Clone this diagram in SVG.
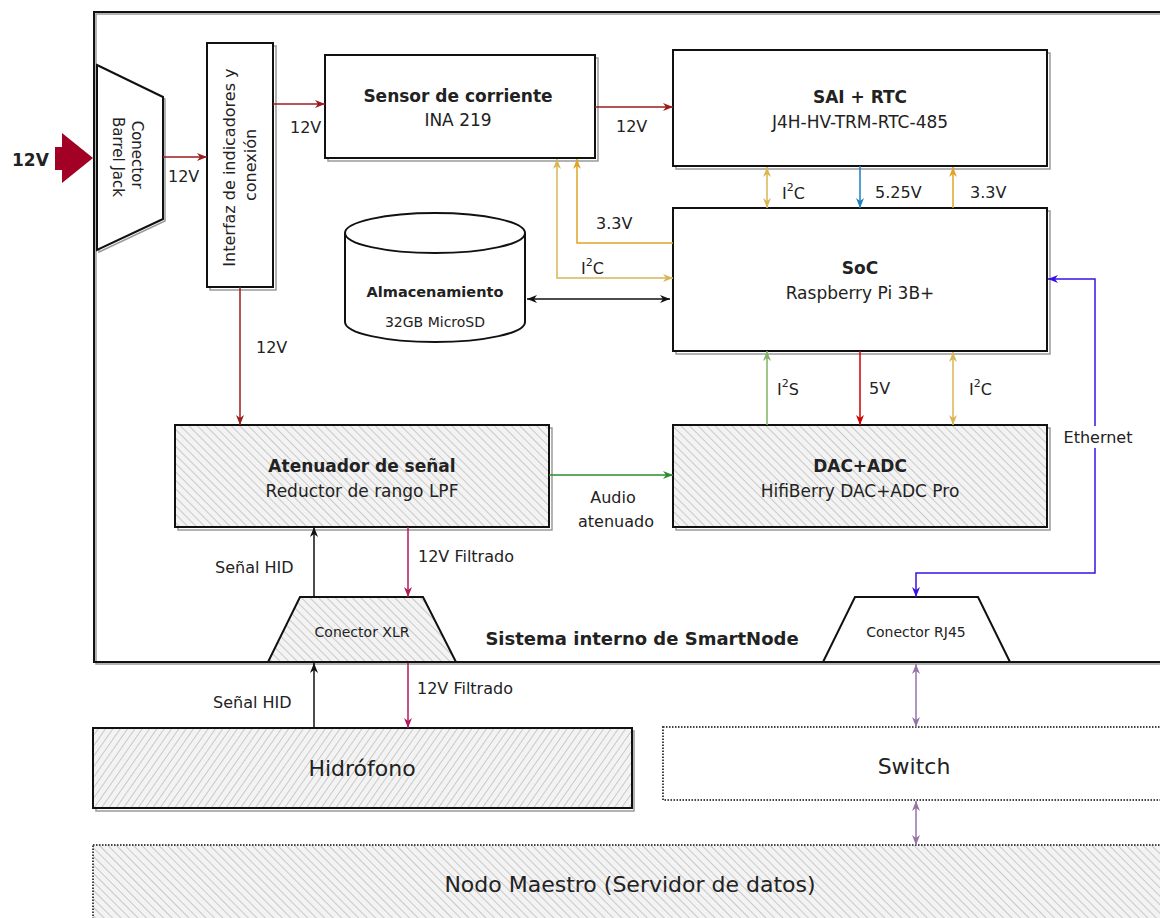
<svg xmlns="http://www.w3.org/2000/svg" width="1160" height="918" viewBox="0 0 1160 918">
  <style>
    text { font-family: "DejaVu Sans", Verdana, sans-serif; fill: #222; }
    .t { font-size: 17px; text-anchor: middle; dominant-baseline: central; }
    .b { font-weight: bold; }
    .lbl { font-size: 16px; dominant-baseline: central; }
    .big { font-size: 22px; text-anchor: middle; dominant-baseline: central; }
    .sm { font-size: 14px; text-anchor: middle; dominant-baseline: central; }
    .box { fill: #fff; stroke: #111; stroke-width: 2; }
    .shadow { fill: none; stroke: #9a9a9a; stroke-width: 1.5; }
    .hatchA { fill: url(#hatchBack); stroke: #111; stroke-width: 2; }
    .hatchB { fill: url(#hatchFwd); stroke: #111; stroke-width: 2; }
    .dotted { stroke: #444; stroke-width: 2; stroke-dasharray: 1.5 1.5; }
    .c { fill: none; stroke-width: 1.5; }
  </style>
  <defs>
    <pattern id="hatchBack" patternUnits="userSpaceOnUse" width="6" height="6" patternTransform="rotate(-45)">
      <rect width="6" height="6" fill="#f3f3f3"/>
      <path d="M0,0 V6" stroke="#a0a0a0" stroke-width="1"/>
    </pattern>
    <pattern id="hatchFwd" patternUnits="userSpaceOnUse" width="6" height="6" patternTransform="rotate(35)">
      <rect width="6" height="6" fill="#f3f3f3"/>
      <path d="M0,0 V6" stroke="#a0a0a0" stroke-width="1"/>
    </pattern>
    <marker id="mRed" viewBox="0 0 10 8" refX="10" refY="4" markerWidth="10" markerHeight="8" markerUnits="userSpaceOnUse" orient="auto-start-reverse"><path d="M0,0 L10,4 L0,8 L3,4Z" fill="#9b1b1b"/></marker>
    <marker id="mYel" viewBox="0 0 10 8" refX="10" refY="4" markerWidth="10" markerHeight="8" markerUnits="userSpaceOnUse" orient="auto-start-reverse"><path d="M0,0 L10,4 L0,8 L3,4Z" fill="#d9b655"/></marker>
    <marker id="mOra" viewBox="0 0 10 8" refX="10" refY="4" markerWidth="10" markerHeight="8" markerUnits="userSpaceOnUse" orient="auto-start-reverse"><path d="M0,0 L10,4 L0,8 L3,4Z" fill="#e0a424"/></marker>
    <marker id="mBlu" viewBox="0 0 10 8" refX="10" refY="4" markerWidth="10" markerHeight="8" markerUnits="userSpaceOnUse" orient="auto-start-reverse"><path d="M0,0 L10,4 L0,8 L3,4Z" fill="#1f7dc1"/></marker>
    <marker id="mGrnL" viewBox="0 0 10 8" refX="10" refY="4" markerWidth="10" markerHeight="8" markerUnits="userSpaceOnUse" orient="auto-start-reverse"><path d="M0,0 L10,4 L0,8 L3,4Z" fill="#82b366"/></marker>
    <marker id="mGrn" viewBox="0 0 10 8" refX="10" refY="4" markerWidth="10" markerHeight="8" markerUnits="userSpaceOnUse" orient="auto-start-reverse"><path d="M0,0 L10,4 L0,8 L3,4Z" fill="#2e8b2e"/></marker>
    <marker id="mRd5" viewBox="0 0 10 8" refX="10" refY="4" markerWidth="10" markerHeight="8" markerUnits="userSpaceOnUse" orient="auto-start-reverse"><path d="M0,0 L10,4 L0,8 L3,4Z" fill="#cc0000"/></marker>
    <marker id="mBlk" viewBox="0 0 10 8" refX="10" refY="4" markerWidth="10" markerHeight="8" markerUnits="userSpaceOnUse" orient="auto-start-reverse"><path d="M0,0 L10,4 L0,8 L3,4Z" fill="#111"/></marker>
    <marker id="mPnk" viewBox="0 0 10 8" refX="10" refY="4" markerWidth="10" markerHeight="8" markerUnits="userSpaceOnUse" orient="auto-start-reverse"><path d="M0,0 L10,4 L0,8 L3,4Z" fill="#b3195a"/></marker>
    <marker id="mEth" viewBox="0 0 10 8" refX="10" refY="4" markerWidth="10" markerHeight="8" markerUnits="userSpaceOnUse" orient="auto-start-reverse"><path d="M0,0 L10,4 L0,8 L3,4Z" fill="#3a10e5"/></marker>
    <marker id="mPur" viewBox="0 0 10 8" refX="10" refY="4" markerWidth="10" markerHeight="8" markerUnits="userSpaceOnUse" orient="auto-start-reverse"><path d="M0,0 L10,4 L0,8 L3,4Z" fill="#9673a6"/></marker>
  </defs>

  <rect width="1160" height="918" fill="#fff"/>

  <!-- SmartNode enclosure -->
  <g id="frame">
    <rect x="96" y="14" width="1100" height="650" class="shadow"/>
    <rect x="94" y="12" width="1100" height="650" fill="none" stroke="#111" stroke-width="2"/>
    <text x="642" y="638" class="b" style="font-size:18px; text-anchor:middle; dominant-baseline:central">Sistema interno de SmartNode</text>
  </g>

  <!-- 12V power input -->
  <g id="input12v">
    <path d="M55,147 H62 V133 L93,158 L62,183 V170 H55 Z" fill="#a20025"/>
    <text x="12" y="160" class="b" style="font-size:17px; dominant-baseline:central">12V</text>
  </g>

  <g id="barrel">
    <path d="M99,67 L165,99 V221 L99,252 Z" class="shadow"/>
    <path d="M97,65 L163,97 V219 L97,250 Z" class="box"/>
    <text transform="translate(128,157) rotate(90)" style="font-size:15px; text-anchor:middle">
      <tspan x="0" y="-4">Conector</tspan>
      <tspan x="0" y="15">Barrel Jack</tspan>
    </text>
  </g>

  <g id="interfaz">
    <rect x="210" y="46" width="66" height="244" class="shadow"/>
    <rect x="207" y="43" width="66" height="244" class="box"/>
    <text transform="translate(240,165) rotate(-90)" style="font-size:16px; text-anchor:middle">
      <tspan x="0" y="-5">Interfaz de indicadores y</tspan>
      <tspan x="0" y="16">conexión</tspan>
    </text>
  </g>

  <g id="sensor">
    <rect x="328" y="58" width="270" height="103" class="shadow"/>
    <rect x="325" y="55" width="270" height="103" class="box"/>
    <text x="458" y="96" class="t b">Sensor de corriente</text>
    <text x="458" y="120" class="t">INA 219</text>
  </g>

  <g id="sai">
    <rect x="676" y="53" width="374" height="116" class="shadow"/>
    <rect x="673" y="50" width="374" height="116" class="box"/>
    <text x="860" y="97" class="t b">SAI + RTC</text>
    <text x="860" y="122" class="t">J4H-HV-TRM-RTC-485</text>
  </g>

  <g id="soc">
    <rect x="676" y="211" width="374" height="143" class="shadow"/>
    <rect x="673" y="208" width="374" height="143" class="box"/>
    <text x="860" y="268" class="t b">SoC</text>
    <text x="860" y="293" class="t">Raspberry Pi 3B+</text>
  </g>

  <g id="almacenamiento">
    <path d="M345,233 A90,20 0 0 1 525,233 V322 A90,20 0 0 1 345,322 Z" class="box"/>
    <path d="M345,233 A90,20 0 0 0 525,233" fill="none" stroke="#111" stroke-width="2"/>
    <text x="435" y="292" class="sm b" style="font-size:14.5px">Almacenamiento</text>
    <text x="435" y="322" class="sm">32GB MicroSD</text>
  </g>

  <g id="atenuador">
    <rect x="178" y="428" width="374" height="102" class="shadow"/>
    <rect x="175" y="425" width="374" height="102" class="hatchA"/>
    <text x="362" y="466" class="t b">Atenuador de señal</text>
    <text x="362" y="491" class="t">Reductor de rango LPF</text>
  </g>

  <g id="dac">
    <rect x="676" y="428" width="374" height="102" class="shadow"/>
    <rect x="673" y="425" width="374" height="102" class="hatchA"/>
    <text x="860" y="466" class="t b">DAC+ADC</text>
    <text x="860" y="491" class="t">HifiBerry DAC+ADC Pro</text>
  </g>

  <g id="xlr">
    <path d="M300,597 H423 L456,662 H268 Z" fill="#fff"/>
    <path d="M300,597 H423 L456,662 H268 Z" class="hatchA"/>
    <text x="362" y="632" class="sm">Conector XLR</text>
  </g>

  <g id="rj45">
    <path d="M858,600 H978 L1010,662 H826 Z" class="shadow"/>
    <path d="M855,597 H978 L1010,662 H823 Z" class="box"/>
    <text x="916" y="632" class="sm">Conector RJ45</text>
  </g>

  <g id="hidrofono">
    <rect x="96" y="731" width="538" height="80" class="shadow"/>
    <rect x="93" y="728" width="539" height="80" class="hatchB"/>
    <text x="362" y="768" class="big">Hidrófono</text>
  </g>

  <g id="switch">
    <rect x="663" y="727" width="520" height="73" fill="#fff" class="dotted"/>
    <text x="914" y="766" class="big">Switch</text>
  </g>

  <g id="nodoMaestro">
    <rect x="93" y="845" width="1090" height="90" fill="url(#hatchBack)" class="dotted"/>
    <text x="630" y="884" class="big">Nodo Maestro (Servidor de datos)</text>
  </g>

  <!-- Connectors -->
  <g id="connectors">
    <path d="M163,157 H207" class="c" stroke="#9b1b1b" marker-end="url(#mRed)"/>
    <path d="M273,104 H325" class="c" stroke="#9b1b1b" marker-end="url(#mRed)"/>
    <path d="M595,107 H673" class="c" stroke="#9b1b1b" marker-end="url(#mRed)"/>
    <path d="M240,287 V425" class="c" stroke="#9b1b1b" marker-end="url(#mRed)"/>

    <path d="M767,167 V208" class="c" stroke="#d9b655" marker-start="url(#mYel)" marker-end="url(#mYel)"/>
    <path d="M860,166 V208" class="c" stroke="#1f7dc1" marker-end="url(#mBlu)"/>
    <path d="M953,208 V167" class="c" stroke="#e0a424" marker-end="url(#mOra)"/>

    <path d="M673,243 H577 V159" class="c" stroke="#e0a424" marker-end="url(#mOra)"/>
    <path d="M557,159 V278 H673" class="c" stroke="#d9b655" marker-start="url(#mYel)" marker-end="url(#mYel)"/>
    <path d="M527,299 H670" class="c" stroke="#111" marker-start="url(#mBlk)" marker-end="url(#mBlk)"/>

    <path d="M767,425 V351" class="c" stroke="#82b366" marker-end="url(#mGrnL)"/>
    <path d="M860,351 V425" class="c" stroke="#cc0000" marker-end="url(#mRd5)"/>
    <path d="M953,352 V425" class="c" stroke="#d9b655" marker-start="url(#mYel)" marker-end="url(#mYel)"/>

    <path d="M549,475 H673" class="c" stroke="#2e8b2e" marker-end="url(#mGrn)"/>

    <path d="M1048,279 H1095 V573 H916 V597" class="c" stroke="#3a10e5" marker-start="url(#mEth)" marker-end="url(#mEth)"/>

    <path d="M314,597 V527" class="c" stroke="#111" marker-end="url(#mBlk)"/>
    <path d="M408,527 V597" class="c" stroke="#b3195a" marker-end="url(#mPnk)"/>
    <path d="M314,728 V663" class="c" stroke="#111" marker-end="url(#mBlk)"/>
    <path d="M408,663 V728" class="c" stroke="#b3195a" marker-end="url(#mPnk)"/>

    <path d="M916,664 V727" class="c" stroke="#9673a6" marker-start="url(#mPur)" marker-end="url(#mPur)"/>
    <path d="M916,801 V845" class="c" stroke="#9673a6" marker-start="url(#mPur)" marker-end="url(#mPur)"/>

    <!-- connector labels -->
    <text x="168" y="176" class="lbl">12V</text>
    <text x="290" y="127" class="lbl">12V</text>
    <text x="616" y="126" class="lbl">12V</text>
    <text x="256" y="347" class="lbl">12V</text>
    <text x="782" y="193" class="lbl">I<tspan dy="-6" style="font-size:11px">2</tspan><tspan dy="6">C</tspan></text>
    <text x="875" y="192" class="lbl">5.25V</text>
    <text x="970" y="192" class="lbl">3.3V</text>
    <text x="596" y="223" class="lbl">3.3V</text>
    <text x="581" y="268" class="lbl">I<tspan dy="-6" style="font-size:11px">2</tspan><tspan dy="6">C</tspan></text>
    <text x="777" y="389" class="lbl">I<tspan dy="-6" style="font-size:11px">2</tspan><tspan dy="6">S</tspan></text>
    <text x="869" y="388" class="lbl">5V</text>
    <text x="969" y="389" class="lbl">I<tspan dy="-6" style="font-size:11px">2</tspan><tspan dy="6">C</tspan></text>
    <text x="613" y="497" class="lbl" style="text-anchor:middle">Audio</text>
    <text x="616" y="521" class="lbl" style="text-anchor:middle">atenuado</text>
    <rect x="1060" y="426" width="76" height="22" fill="#fff"/>
    <text x="1098" y="437" class="lbl" style="text-anchor:middle">Ethernet</text>
    <text x="215" y="567" class="lbl">Señal HID</text>
    <text x="418" y="556" class="lbl">12V Filtrado</text>
    <text x="213" y="702" class="lbl">Señal HID</text>
    <text x="417" y="688" class="lbl">12V Filtrado</text>
  </g>
</svg>
